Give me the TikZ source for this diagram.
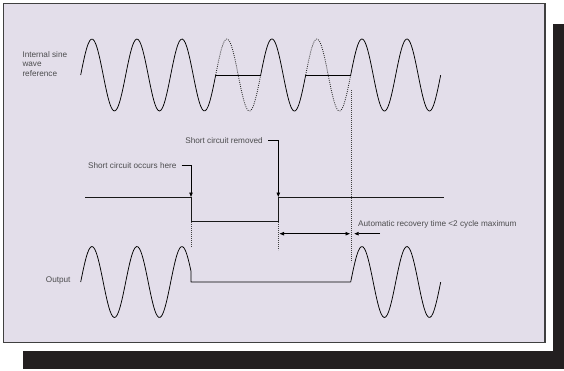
\documentclass[tikz,border=0pt]{standalone}
\usepackage{fontspec}
\setmainfont{Liberation Sans}
\usetikzlibrary{arrows.meta,positioning}
\definecolor{panelfill}{HTML}{E3DEEA}
\definecolor{shadowbar}{HTML}{231F20}
\definecolor{txt}{HTML}{4D4D4F}
\newcommand{\wavex}{80.7}
\newcommand{\waveT}{45}

\begin{document}
\begin{tikzpicture}[x=1pt, y=-1pt, every node/.style={font=\fontsize{8.2}{9.8}\selectfont, text=txt, inner sep=2pt}]
\tikzset{wave/.style={line width=0.75pt, line join=round},
  ghost/.style={line width=0.8pt, dash pattern=on 0.9pt off 1.2pt, draw=black!85},
  guide/.style={line width=0.9pt, dash pattern=on 0.9pt off 1.1pt, draw=black!75},
  pulse/.style={line width=0.8pt, draw=black!90},
  tip/.style={-{Triangle[length=4.5pt,width=3.4pt]}, line width=0.8pt},
  twotip/.style={{Triangle[length=4.5pt,width=3.4pt]}-{Triangle[length=4.5pt,width=3.4pt]}, line width=0.8pt}}
\useasboundingbox (0,0) rectangle (564,370);
% shadow and panel
\fill[shadowbar] (553,24) rectangle (564,368.5);
\fill[shadowbar] (23,351) rectangle (564,368.5);
\draw[fill=panelfill, draw=black!75, line width=1.5pt] (3.5,3.5) rectangle (545,342.5);

% internal reference wave
\foreach \a/\b in {0/3,4/5,6/8}
  \draw[wave] plot[domain=\a:\b, samples=90, smooth] ({\wavex+\waveT*\x},{75-36*sin(360*\x)});
\foreach \a/\b in {3/4,5/6}
  \draw[ghost] plot[domain=\a:\b, samples=50, smooth] ({\wavex+\waveT*\x},{75-36*sin(360*\x)});
\draw[wave] ({\wavex+3*\waveT},75) -- ({\wavex+4*\waveT},75);
\draw[wave] ({\wavex+5*\waveT},75) -- ({\wavex+6*\waveT},75);

% short circuit pulse
\coordinate (scOn) at (191,197);
\coordinate (scOff) at (278.3,197);
\draw[pulse] (85,197) -- (scOn) -- (191,221) -- (278.3,221) -- (scOff) -- (444,197);

% guides
\draw[guide] (191,222) -- (191,247);
\draw[guide] (278.3,222) -- (278.3,250);
\draw[guide] (351,90) -- (351,262);

% output wave
\draw[wave] plot[domain=0:2.451, samples=80, smooth] ({\wavex+\waveT*\x},{282-35.5*sin(360*\x)})
  -- (191,282) -- ({\wavex+6*\waveT},282);
\draw[wave] plot[domain=6:8, samples=60, smooth] ({\wavex+\waveT*\x},{282-35.5*sin(360*\x)});

% labels
\node[anchor=west, align=left] (ref) at (20.3,64) {Internal sine\\wave\\reference};
\node[anchor=east] (out) at (72.7,280) {Output};
\node[anchor=east, inner xsep=5pt] (occurs) at (181.7,165.2) {Short circuit occurs here};
\node[anchor=east, inner xsep=5pt] (removed) at (268,140.8) {Short circuit removed};
\node[anchor=west] (recov) at (356,224) {Automatic recovery time <2 cycle maximum};

\draw[tip] (occurs.east) -| (scOn);
\draw[tip] (removed.east) -| (scOff);

% recovery time
\coordinate (recA) at (279.5,233.7);
\coordinate (recB) at (350,233.7);
\coordinate (recC) at (380,233.7);
\coordinate (recD) at (354.2,233.7);
\draw[twotip] (recA) -- (recB);
\draw[tip] (recC) -- (recD);
\end{tikzpicture}
\end{document}
